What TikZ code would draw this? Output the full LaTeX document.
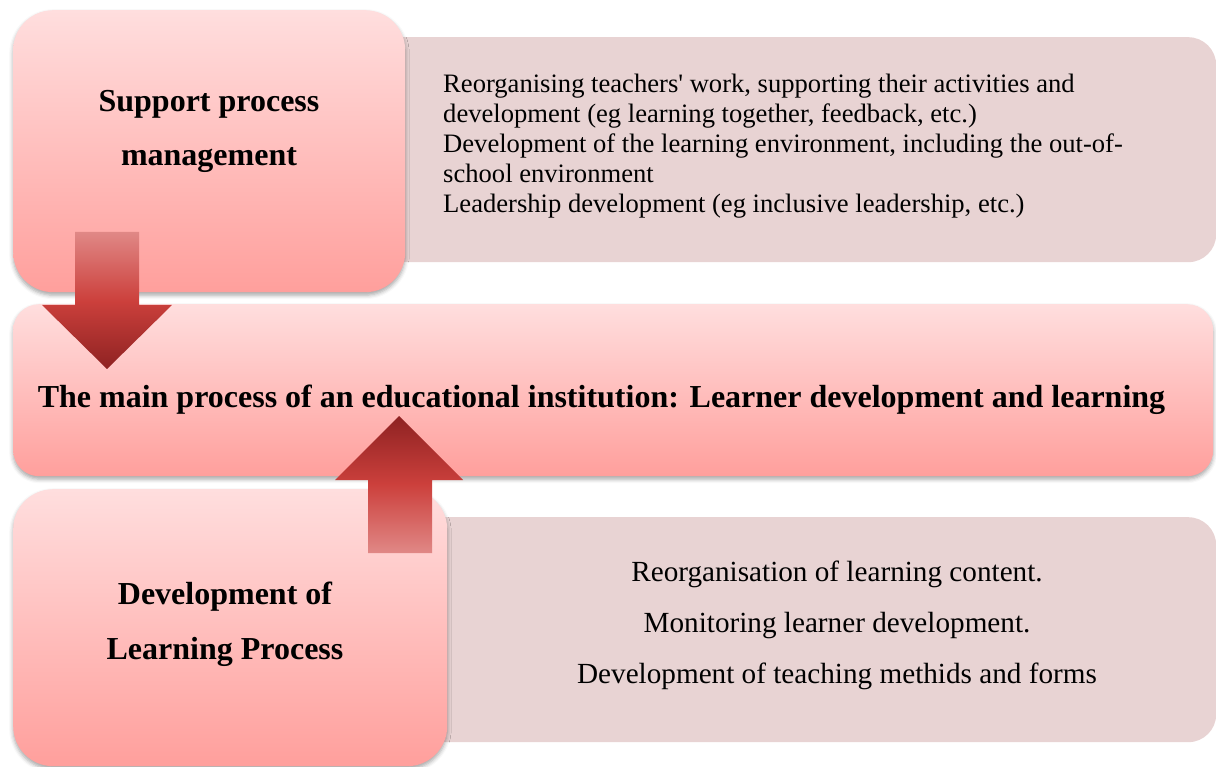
\documentclass[tikz,border=0pt]{standalone}
\usepackage{fontspec}
\setmainfont{Liberation Serif}
\usetikzlibrary{shadows.blur}

\definecolor{pinktop}{HTML}{FFDEDE}
\definecolor{pinkbot}{HTML}{FF9F9C}
\definecolor{notefill}{HTML}{E8D3D3}
\definecolor{arrowlight}{HTML}{E08886}
\definecolor{arrowmid}{HTML}{CC403C}
\definecolor{arrowdark}{HTML}{8E2222}

\tikzset{
  procbox/.style={draw=none, top color=pinktop, bottom color=pinkbot,
    rounded corners=#1, inner sep=0pt, anchor=north west,
    blur shadow={shadow xshift=0pt, shadow yshift=-3pt,
      shadow blur radius=4pt, shadow opacity=35}},
  notebox/.style={draw=none, fill=notefill, rounded corners=28pt,
    inner sep=0pt, anchor=north west},
  boldtext/.style={font=\fontsize{32}{38}\selectfont\bfseries, inner sep=0pt, anchor=base},
  listtext/.style={font=\fontsize{26.6}{30}\selectfont, inner sep=0pt, anchor=base west},
  centertext/.style={font=\fontsize{29.2}{34}\selectfont, inner sep=0pt, anchor=base},
  downarrow/.style={top color=arrowlight, bottom color=arrowdark, middle color=arrowmid},
  uparrow/.style={top color=arrowdark, bottom color=arrowlight, middle color=arrowmid}
}

\begin{document}
\begin{tikzpicture}[x=1pt, y=-1pt]
\useasboundingbox (0,0) rectangle (1216,767);

% side panels (their left parts sit under the pink boxes)
\node[notebox, minimum width=916pt, minimum height=225pt] (supportnote) at (300,37) {};
\node[notebox, minimum width=886pt, minimum height=225pt] (learnnote) at (330,517) {};

% process boxes
\node[procbox=40pt, minimum width=392pt, minimum height=282pt] (support) at (13,10) {};
\node[procbox=26pt, minimum width=1200pt, minimum height=172pt] (main) at (13,304) {};
\node[procbox=40pt, minimum width=434pt, minimum height=277pt] (learn) at (13,489) {};

% block arrows
\path[downarrow] (75,232) coordinate (dtail) -- (139,232) -- (139,305) -- (172,305)
  -- (107,369) coordinate (dtip) -- (42,305) -- (75,305) -- cycle;
\path[uparrow] (368,553) coordinate (utail) -- (432,553) -- (432,480) -- (463,480)
  -- (399,416) coordinate (utip) -- (335,480) -- (368,480) -- cycle;

% box titles
\node[boldtext] (supportA) at (209,112) {Support process};
\node[boldtext] (supportB) at (209,166) {management};
\node[boldtext] (mainT) at (601.5,407.7) {The main process of an educational institution: Learner development and learning};
\node[boldtext] (learnA) at (225,604) {Development of};
\node[boldtext] (learnB) at (225,659) {Learning Process};

% support process items
\node[listtext] (s1) at (443,92.5) {Reorganising teachers\textquotesingle{} work, supporting their activities and};
\node[listtext] (s2) at (443,122.5) {development (eg learning together, feedback, etc.)};
\node[listtext] (s3) at (443,152.5) {Development of the learning environment, including the out-of-};
\node[listtext] (s4) at (443,182.5) {school environment};
\node[listtext] (s5) at (443,212.5) {Leadership development (eg inclusive leadership, etc.)};

% learning process items
\node[centertext] (l1) at (837,581.5) {Reorganisation of learning content.};
\node[centertext] (l2) at (837,632.5) {Monitoring learner development.};
\node[centertext] (l3) at (837,683.5) {Development of teaching methids and forms};
\end{tikzpicture}
\end{document}
